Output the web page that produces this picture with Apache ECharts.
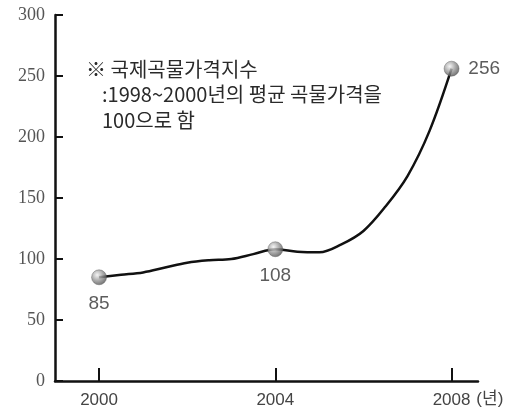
<!DOCTYPE html>
<html>
<head>
<meta charset="utf-8">
<script src="https://cdn.jsdelivr.net/npm/echarts@6/dist/echarts.min.js"></script>
<style>
html,body{margin:0;padding:0;background:#fff;}
#chart{width:511px;height:414px;}
</style>
</head>
<body>
<div id="chart"></div>
<script>
// Data
const years = [2000, 2000.5, 2001, 2001.5, 2002, 2002.5, 2003, 2003.5, 2004, 2004.5, 2005, 2005.5, 2006, 2006.5, 2007, 2007.5, 2008];
const priceIndex = [85, 87, 89, 93, 97, 99, 100, 104, 108, 106, 105.5, 112, 123, 143, 168, 205, 256];
const markedYears = [2000, 2004, 2008];
const markedValues = [85, 108, 256];
const xTickValues = [2000, 2004, 2008];
const yTicks = [0, 50, 100, 150, 200, 250, 300];
const noteLines = ['※ 국제곡물가격지수', ':1998~2000년의 평균 곡물가격을', '100으로 함'];
const xUnit = '(년)';

const chart = echarts.init(document.getElementById('chart'));
const lineData = years.map((y, i) => [y, priceIndex[i]]);
const markData = markedYears.map((y, i) => [y, markedValues[i]]);

const sphere = {
  type: 'radial', x: 0.38, y: 0.35, r: 0.7,
  colorStops: [
    {offset: 0, color: '#f2f2f2'},
    {offset: 0.5, color: '#9a9a9a'},
    {offset: 1, color: '#4a4a4a'}
  ]
};

const sans = 'Liberation Sans, Noto Sans CJK KR';

chart.setOption({
  animation: false,
  backgroundColor: '#fff',
  grid: {left: 55, right: 33, top: 15, bottom: 33},
  xAxis: {
    type: 'value', min: 1999, max: 2008.6,
    name: xUnit, nameLocation: 'end', nameGap: -10,
    nameTextStyle: {color: '#444', fontSize: 17, fontFamily: sans, verticalAlign: 'top', padding: [10, 0, 0, 0]},
    splitLine: {show: false},
    axisLine: {show: true, lineStyle: {color: '#111', width: 2.5}},
    axisTick: {show: true, inside: true, length: 13, customValues: xTickValues, lineStyle: {color: '#111', width: 2}},
    axisLabel: {customValues: xTickValues, formatter: v => String(v), color: '#444', fontSize: 17, fontFamily: sans, margin: 11}
  },
  yAxis: {
    type: 'value', min: 0, max: 300, interval: 50,
    splitLine: {show: false},
    axisLine: {show: true, lineStyle: {color: '#111', width: 2.5}},
    axisTick: {show: true, inside: true, length: 8, customValues: yTicks, lineStyle: {color: '#111', width: 2}},
    axisLabel: {customValues: yTicks, formatter: v => String(v), color: '#555', fontSize: 18, fontFamily: 'Liberation Serif, DejaVu Serif', margin: 10}
  },
  series: [
    {
      type: 'line', data: lineData, smooth: 0.35, symbol: 'none',
      lineStyle: {color: '#111', width: 2.5}, z: 2
    },
    {
      type: 'scatter', symbolSize: 15, z: 5,
      data: markData.map((d, i) => i === markData.length - 1
        ? {value: d, label: {position: 'right', distance: 9}}
        : {value: d}),
      itemStyle: {color: sphere, borderColor: '#555', borderWidth: 0.5},
      label: {
        show: true, color: '#333', fontSize: 19, fontFamily: sans,
        formatter: p => String(p.value[1]),
        position: 'bottom', distance: 9
      }
    }
  ],
  graphic: noteLines.map((t, i) => ({
    type: 'text',
    left: i === 0 ? 86 : 102,
    top: 59 + i * 25.5,
    style: {text: t, fill: '#2a2a2a', fontSize: 20, fontFamily: 'Noto Sans CJK KR'}
  }))
});
</script>
</body>
</html>
